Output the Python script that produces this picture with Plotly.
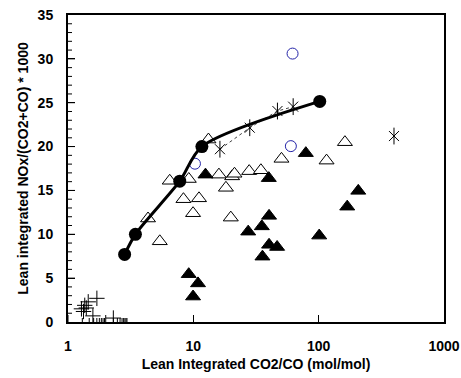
import math
import plotly.graph_objects as go

# Series: filled circles joined by smoothed line
circle_x = [2.83, 3.45, 7.79, 11.7, 102]
circle_y = [7.7, 10.0, 16.05, 20.0, 25.15]

# Asterisks joined by dotted line
star_line_x = [16.3, 28.2, 46.9, 62.6]
star_line_y = [19.7, 22.15, 24.05, 24.55]
# Isolated asterisk
star_iso_x = [399]
star_iso_y = [21.2]

# Open blue circles
blue_x = [61.9, 60.0, 10.3]
blue_y = [30.6, 20.05, 18.05]

# Open triangles
otri_x = [13.2, 6.48, 9.2, 8.34, 9.95, 11.1, 4.35, 5.4, 16.0, 18.2, 20.4, 21.3,
          27.9, 34.6, 19.9, 50.5, 115.6, 162]
otri_y = [20.8, 16.1, 16.3, 14.0, 12.4, 14.1, 11.8, 9.2, 16.8, 15.3, 16.6, 16.9,
          17.2, 17.3, 11.9, 18.6, 18.4, 20.5]

# Filled triangles
ftri_x = [12.5, 40.0, 40.2, 35.2, 27.4, 40.2, 46.6, 35.6, 9.19, 10.9, 9.95,
          79.0, 101, 169, 207]
ftri_y = [16.8, 16.4, 12.1, 10.9, 10.3, 8.8, 8.55, 7.45, 5.45, 4.4, 2.9,
          19.25, 9.85, 13.15, 14.95]

# Plus signs
plus_x = [1.28, 1.33, 1.36, 1.40, 1.45, 1.58, 1.70, 2.30]
plus_y = [1.5, 1.2, 1.9, 1.6, 2.3, 0.7, 2.7, 0.45]

# Axis definitions
X_RANGE_DECADES = [0, 3]
Y_MAX, Y_MAJOR, Y_MINOR = 35, 5, 1

FONT = "Arial, Liberation Sans, sans-serif"

# inward tick marks derived from the axis definitions
x_minor_ticks = [m * 10 ** k for k in range(X_RANGE_DECADES[0], X_RANGE_DECADES[1]) for m in range(2, 10)]
x_major_ticks = [10 ** k for k in range(X_RANGE_DECADES[0] + 1, X_RANGE_DECADES[1])]
y_minor_ticks = [v for v in range(Y_MINOR, Y_MAX, Y_MINOR) if v % Y_MAJOR]
y_major_ticks = list(range(Y_MAJOR, Y_MAX, Y_MAJOR))

fig = go.Figure()

fig.add_trace(go.Scatter(
    x=plus_x, y=plus_y, mode="markers",
    marker=dict(symbol="cross-thin-open", size=11, color="black",
                line=dict(color="black", width=1)),
))
fig.add_trace(go.Scatter(
    x=otri_x, y=otri_y, mode="markers",
    marker=dict(symbol="triangle-up", size=13, color="white",
                line=dict(color="black", width=1)),
))
fig.add_trace(go.Scatter(
    x=ftri_x, y=ftri_y, mode="markers",
    marker=dict(symbol="triangle-up", size=13, color="black",
                line=dict(color="black", width=1)),
))
fig.add_trace(go.Scatter(
    x=blue_x, y=blue_y, mode="markers",
    marker=dict(symbol="circle-open", size=11, color="#2424a8",
                line=dict(color="#2424a8", width=1)),
))
# asterisks with dotted line
fig.add_trace(go.Scatter(
    x=star_line_x, y=star_line_y, mode="lines",
    line=dict(color="#444444", width=1, dash="dot"),
))
for xs, ys in [(star_line_x, star_line_y), (star_iso_x, star_iso_y)]:
    fig.add_trace(go.Scatter(
        x=xs, y=ys, mode="markers",
        marker=dict(symbol="x-thin-open", size=10, color="black",
                    line=dict(color="black", width=1)),
    ))
    fig.add_trace(go.Scatter(
        x=xs, y=ys, mode="markers",
        marker=dict(symbol="line-ns-open", size=12, color="black",
                    line=dict(color="black", width=1)),
    ))
# filled circles with smoothed line
fig.add_trace(go.Scatter(
    x=circle_x, y=circle_y, mode="lines+markers",
    line=dict(color="black", width=3, shape="spline", smoothing=0.8),
    marker=dict(symbol="circle", size=13, color="black"),
))

# inward tick marks as shapes (log axis shapes take log10 positions)
PLOT_W, PLOT_H = 376.0, 307.0
shapes = []
for v, ln in [(t, 4) for t in x_minor_ticks] + [(t, 7) for t in x_major_ticks]:
    shapes.append(dict(type="line", xref="x", yref="paper",
                       x0=math.log10(v), x1=math.log10(v), y0=0, y1=ln / PLOT_H,
                       line=dict(color="black", width=1), layer="above"))
for v, ln in [(t, 4) for t in y_minor_ticks] + [(t, 7) for t in y_major_ticks]:
    shapes.append(dict(type="line", xref="paper", yref="y",
                       x0=0, x1=ln / PLOT_W, y0=v, y1=v,
                       line=dict(color="black", width=1), layer="above"))

fig.update_layout(
    width=461, height=378,
    margin=dict(l=68, r=17, t=15, b=56),
    paper_bgcolor="white", plot_bgcolor="white",
    showlegend=False,
    font=dict(family=FONT, color="black"),
    shapes=shapes,
)
fig.update_xaxes(
    type="log", range=X_RANGE_DECADES, automargin=False,
    tickmode="linear", tick0=0, dtick=1,
    ticks="inside", ticklen=7, tickwidth=1, tickcolor="black",
    showline=True, linecolor="black", linewidth=2, mirror=True,
    showgrid=False, zeroline=False,
    tickfont=dict(family=FONT, size=14, color="black", weight="bold"),
    ticklabeloverflow="allow",
    ticklabelstandoff=10,
    title=dict(text="<b>Lean Integrated CO2/CO (mol/mol)</b>",
               font=dict(family=FONT, size=14, color="black"), standoff=6),
)
fig.update_yaxes(
    range=[0, Y_MAX], automargin=False,
    tickmode="linear", tick0=0, dtick=Y_MAJOR,
    ticks="inside", ticklen=7, tickwidth=1, tickcolor="black",
    showline=True, linecolor="black", linewidth=2, mirror=True,
    showgrid=False, zeroline=False,
    tickfont=dict(family=FONT, size=14, color="black", weight="bold"),
    ticklabeloverflow="allow",
    ticklabelstandoff=10,
    title=dict(text="<b>Lean integrated NOx/(CO2+CO) * 1000</b>",
               font=dict(family=FONT, size=14, color="black"), standoff=6),
)

# remove the default page margin so the figure sits at the window's corner
fig.write_html("out.html", config={"displayModeBar": False},
               post_script="document.body.style.margin='0';")
